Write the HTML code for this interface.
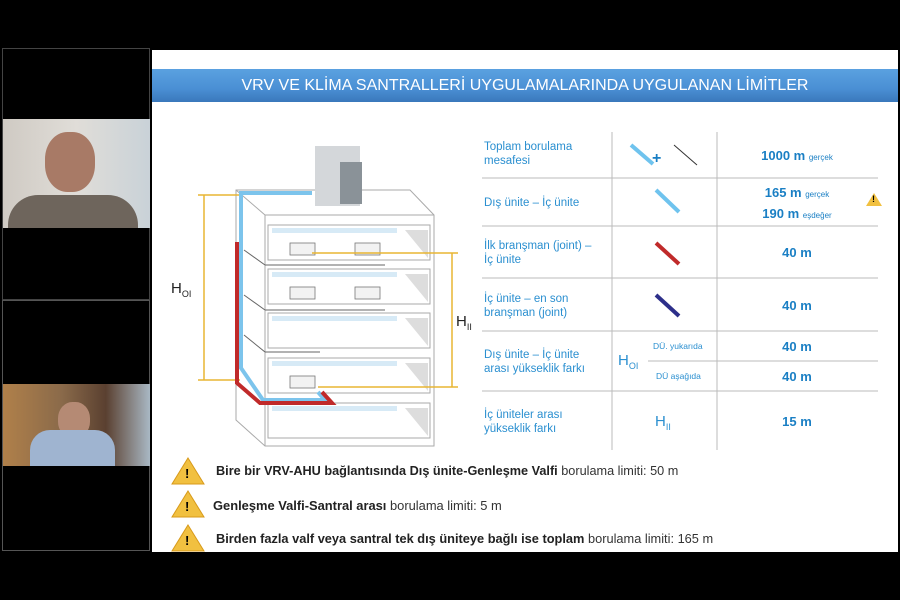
<!DOCTYPE html>
<html><head><meta charset="utf-8"><style>
body{margin:0;width:900px;height:600px;background:#000;overflow:hidden;position:relative;font-family:"Liberation Sans",sans-serif}
.a{position:absolute}
.t{color:#2a8fd0;font-size:11.5px;line-height:14px}
.v{color:#1a7fc4;font-weight:bold;font-size:13px;text-align:center;width:160px}
.v small{font-size:8px;font-weight:normal}
.w{font-size:12.7px;color:#333;white-space:nowrap}
.w b{font-weight:bold;color:#222}
</style></head><body>
<div class="a" style="left:2px;top:48px;width:148px;height:252px;border:1px solid #444;box-sizing:border-box"></div>
<div class="a" style="left:2px;top:300px;width:148px;height:251px;border:1px solid #555;box-sizing:border-box"></div>
<div class="a" style="left:3px;top:119px;width:147px;height:109px;background:linear-gradient(90deg,#cfcac3,#e0ddd8 50%,#c9d2d8)"></div>
<div class="a" style="left:45px;top:132px;width:50px;height:60px;border-radius:45%;background:#a87a66"></div>
<div class="a" style="left:8px;top:195px;width:130px;height:33px;border-radius:30px 30px 0 0;background:#6e655c"></div>
<div class="a" style="left:3px;top:384px;width:147px;height:82px;background:linear-gradient(90deg,#b0804a,#8a6a4a 40%,#5a4030 70%,#a9b8c4)"></div>
<div class="a" style="left:58px;top:402px;width:32px;height:36px;border-radius:45%;background:#b58a74"></div>
<div class="a" style="left:30px;top:430px;width:85px;height:36px;border-radius:20px 20px 0 0;background:#9fb4d0"></div>

<div class="a" style="left:152px;top:50px;width:746px;height:502px;background:#fff"></div>
<div class="a" style="left:152px;top:69px;width:746px;height:33px;background:linear-gradient(#5aa1e0,#4a8fd4 60%,#3a78bb);color:#fff;font-size:16px;line-height:33px;text-align:center">VRV VE KLİMA SANTRALLERİ UYGULAMALARINDA UYGULANAN LİMİTLER</div>

<svg class="a" style="left:0;top:0" width="900" height="600">
<g stroke="#aaa" fill="none" stroke-width="1">
<path d="M236 190 L410 190 L434 215 L434 446 L265 446 L236 420 Z"/>
<line x1="236" y1="190" x2="265" y2="215"/><line x1="265" y1="215" x2="434" y2="215"/><line x1="265" y1="215" x2="265" y2="446"/>
<rect x="268" y="225" width="162" height="35"/><rect x="268" y="269" width="162" height="35"/><rect x="268" y="313" width="162" height="35"/><rect x="268" y="358" width="162" height="35"/><rect x="268" y="403" width="162" height="35"/>
</g>
<g stroke="#666"><line x1="244" y1="250" x2="265" y2="265"/><line x1="265" y1="265" x2="385" y2="265"/><line x1="244" y1="295" x2="265" y2="310"/><line x1="265" y1="310" x2="385" y2="310"/><line x1="244" y1="335" x2="265" y2="352"/><line x1="265" y1="352" x2="320" y2="352"/></g>
<g fill="#ddd"><path d="M405 230 L428 230 L428 258 Z"/><path d="M405 274 L428 274 L428 302 Z"/><path d="M405 318 L428 318 L428 346 Z"/><path d="M405 363 L428 363 L428 391 Z"/><path d="M405 408 L428 408 L428 436 Z"/></g>
<g fill="#d7eaf6"><rect x="272" y="228" width="125" height="5"/><rect x="272" y="272" width="125" height="5"/><rect x="272" y="316" width="125" height="5"/><rect x="272" y="361" width="125" height="5"/><rect x="272" y="406" width="125" height="5"/></g>
<g fill="#f2f2f2" stroke="#777" stroke-width="0.8"><rect x="290" y="243" width="25" height="12"/><rect x="355" y="243" width="25" height="12"/><rect x="290" y="287" width="25" height="12"/><rect x="355" y="287" width="25" height="12"/><rect x="290" y="376" width="25" height="12"/></g>
<rect x="315" y="146" width="45" height="60" fill="#d4d7da"/><rect x="340" y="162" width="22" height="42" fill="#8a9298"/>
<g stroke="#e8b533" stroke-width="1.5" fill="none">
<line x1="204" y1="195" x2="204" y2="380"/><line x1="198" y1="195" x2="240" y2="195"/><line x1="198" y1="380" x2="240" y2="380"/>
<line x1="452" y1="253" x2="452" y2="387"/><line x1="312" y1="253" x2="458" y2="253"/><line x1="318" y1="387" x2="458" y2="387"/>
</g>
<path d="M312 193 L241 193 L241 368 L263 400 L325 400 L318 392" stroke="#7cc4ec" stroke-width="4" fill="none"/>
<path d="M237 242 L237 383 L260 403 L332 403 L322 392" stroke="#c02a2a" stroke-width="4" fill="none"/>
<g stroke="#bbb" stroke-width="1"><line x1="612" y1="132" x2="612" y2="450"/><line x1="717" y1="132" x2="717" y2="450"/>
<line x1="482" y1="178" x2="878" y2="178"/><line x1="482" y1="226" x2="878" y2="226"/><line x1="482" y1="278" x2="878" y2="278"/><line x1="482" y1="331" x2="878" y2="331"/><line x1="648" y1="361" x2="878" y2="361"/><line x1="482" y1="391" x2="878" y2="391"/></g>
<line x1="631" y1="145" x2="653" y2="164" stroke="#6fc3ee" stroke-width="4"/><line x1="674" y1="145" x2="697" y2="165" stroke="#333" stroke-width="1"/>
<line x1="656" y1="190" x2="679" y2="212" stroke="#6fc3ee" stroke-width="4"/>
<line x1="656" y1="243" x2="679" y2="264" stroke="#c02a2a" stroke-width="4"/>
<line x1="656" y1="295" x2="679" y2="316" stroke="#2d2f8a" stroke-width="4"/>
<g><path d="M874 193 L882 206 L866 206 Z" fill="#f1c040"/></g>
<g fill="#f1c040" stroke="#d89a1a"><path d="M188 458 L204 484 L172 484 Z"/><path d="M188 491 L204 517 L172 517 Z"/><path d="M188 525 L204 551 L172 551 Z"/></g>
</svg>
<div class="a" style="left:185px;top:466px;font-weight:bold;font-size:13px">!</div>
<div class="a" style="left:185px;top:499px;font-weight:bold;font-size:13px">!</div>
<div class="a" style="left:185px;top:533px;font-weight:bold;font-size:13px">!</div>
<div class="a" style="left:872px;top:194px;font-weight:bold;font-size:9px">!</div>
<div class="a" style="left:171px;top:280px;font-size:15px;color:#222">H<sub style="font-size:9px">OI</sub></div>
<div class="a" style="left:456px;top:313px;font-size:15px;color:#222">H<sub style="font-size:9px">II</sub></div>
<div class="a" style="left:652px;top:150px;font-size:16px;font-weight:bold;color:#1a7fc4">+</div>

<div class="a t" style="left:484px;top:140px">Toplam borulama<br>mesafesi</div>
<div class="a t" style="left:484px;top:196px">Dış ünite – İç ünite</div>
<div class="a t" style="left:484px;top:239px">İlk branşman (joint) –<br>İç ünite</div>
<div class="a t" style="left:484px;top:292px">İç ünite – en son<br>branşman (joint)</div>
<div class="a t" style="left:484px;top:348px">Dış ünite – İç ünite<br>arası yükseklik farkı</div>
<div class="a t" style="left:484px;top:408px">İç üniteler arası<br>yükseklik farkı</div>
<div class="a" style="left:618px;top:352px;font-size:15px;color:#2a8fd0">H<sub style="font-size:9px">OI</sub></div>
<div class="a" style="left:655px;top:413px;font-size:15px;color:#2a8fd0">H<sub style="font-size:9px">II</sub></div>
<div class="a" style="left:653px;top:341px;font-size:8.5px;color:#2a8fd0">DÜ. yukarıda</div>
<div class="a" style="left:656px;top:371px;font-size:8.5px;color:#2a8fd0">DÜ aşağıda</div>
<div class="a v" style="left:717px;top:148px">1000 m <small>gerçek</small></div>
<div class="a v" style="left:717px;top:185px">165 m <small>gerçek</small></div>
<div class="a v" style="left:717px;top:206px">190 m <small>eşdeğer</small></div>
<div class="a v" style="left:717px;top:245px">40 m</div>
<div class="a v" style="left:717px;top:298px">40 m</div>
<div class="a v" style="left:717px;top:339px">40 m</div>
<div class="a v" style="left:717px;top:369px">40 m</div>
<div class="a v" style="left:717px;top:414px">15 m</div>

<div class="a w" style="left:216px;top:464px;font-size:12.7px"><b>Bire bir VRV-AHU bağlantısında Dış ünite-Genleşme Valfi</b> borulama limiti: 50 m</div>
<div class="a w" style="left:213px;top:498px;font-size:12.9px"><b>Genleşme Valfi-Santral arası</b> borulama limiti: 5 m</div>
<div class="a w" style="left:216px;top:531px;font-size:12.8px"><b>Birden fazla valf veya santral tek dış üniteye bağlı ise toplam</b> borulama limiti: 165 m</div>
</body></html>
